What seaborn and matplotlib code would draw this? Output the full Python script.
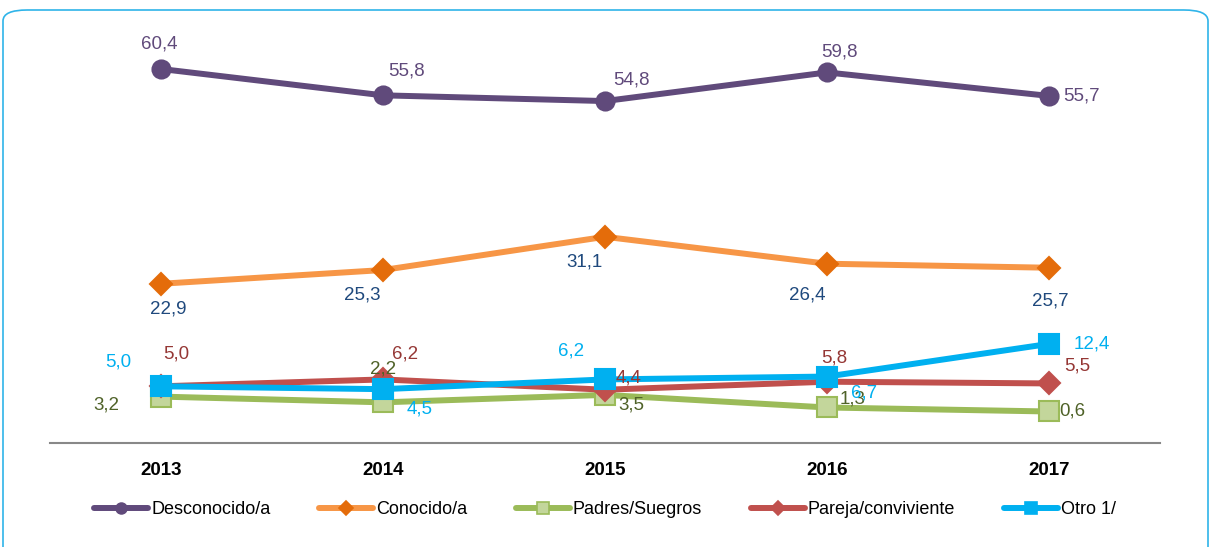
import matplotlib.pyplot as plt
import matplotlib.patches as mpatches
import seaborn as sns
import pandas as pd

anios = ["2013", "2014", "2015", "2016", "2017"]
desconocido = [60.4, 55.8, 54.8, 59.8, 55.7]
conocido = [22.9, 25.3, 31.1, 26.4, 25.7]
padres = [3.2, 2.2, 3.5, 1.3, 0.6]
pareja = [5.0, 6.2, 4.4, 5.8, 5.5]
otro = [5.0, 4.5, 6.2, 6.7, 12.4]

sns.set_style("white")
plt.rcParams['font.family'] = ['Liberation Sans', 'DejaVu Sans']

fig = plt.figure(figsize=(12.11, 5.47), dpi=100)
ax = fig.add_axes([50 / 1211, 104 / 547, 1110 / 1211, 429 / 547])

x = list(range(len(anios)))

# serie: (nombre, valores, color linea, marcador, relleno, borde, tam, color etiqueta, offsets px)
series = [
    ("Desconocido/a", desconocido, "#604A7B", "o", "#604A7B", "#604A7B", 13, "#604A7B",
     [(-2, 25), (24, 24), (26, 21), (12, 20), (33, 0)]),
    ("Conocido/a", conocido, "#F79646", "D", "#E46C0A", "#E46C0A", 11.5, "#1F497D",
     [(7, -25), (-21, -25), (-21, -25), (-20, -31), (1, -33)]),
    ("Padres/Suegros", padres, "#9BBB59", "s", "#C3D69B", "#9BBB59", 14, "#4F6228",
     [(-55, -8), (0, 33), (26, -10), (26, 8), (23, 0)]),
    ("Pareja/conviviente", pareja, "#C0504D", "D", "#C0504D", "#C0504D", 11.5, "#953735",
     [(15, 32), (22, 25), (24, 12), (7, 24), (28, 17)]),
    ("Otro 1/", otro, "#00B0F0", "s", "#00B0F0", "#00B0F0", 15, "#00B0F0",
     [(-43, 24), (37, -20), (-34, 28), (37, -16), (43, 0)]),
]

handles = []
for nombre, vals, col, mk, fc, ec, ms, lcol, offs in series:
    df = pd.DataFrame({"x": x, "y": vals})
    sns.lineplot(data=df, x="x", y="y", ax=ax, color=col, lw=4.3, marker=mk, ms=ms,
                 markerfacecolor=fc, markeredgecolor=ec, markeredgewidth=1.5)
    for xi, v, (dx, dy) in zip(x, vals, offs):
        ax.annotate(f"{v:.1f}".replace(".", ","), (xi, v), xytext=(dx, dy),
                    textcoords="offset pixels", ha="center", va="center",
                    fontsize=13.5, color=lcol)
    handles.append(plt.Line2D([], [], color=col, lw=4.3, marker=mk, ms=ms * 0.6,
                              markerfacecolor=fc, markeredgecolor=ec, markeredgewidth=1.2))

ax.set_xlim(-0.5, 4.5)
ax.set_ylim(-4.9, 70)
ax.set_xticks(x)
ax.set_xticklabels(anios, fontsize=13.5, fontweight="bold", color="black")
ax.set_yticks([])
ax.set_xlabel("")
ax.set_ylabel("")
ax.tick_params(axis="x", length=0, pad=14)
for s in ["top", "right", "left"]:
    ax.spines[s].set_visible(False)
ax.spines["bottom"].set_color("#888888")
ax.spines["bottom"].set_linewidth(1.5)

fig.legend(handles, [s[0] for s in series], loc="center", ncol=5,
           bbox_to_anchor=(605 / 1211, 37 / 547), frameon=False, fontsize=13,
           handlelength=3.0, handletextpad=0.15, columnspacing=2.7,
           labelcolor="black")

caja = mpatches.FancyBboxPatch((3 / 1211, -0.1), 1205 / 1211, 0.1 + 537 / 547,
                               boxstyle="round,pad=0,rounding_size=0.02",
                               transform=fig.transFigure, fill=False,
                               edgecolor="#2FB4E9", lw=1.2, clip_on=False)
fig.patches.append(caja)

fig.savefig("out.png", dpi=100)
